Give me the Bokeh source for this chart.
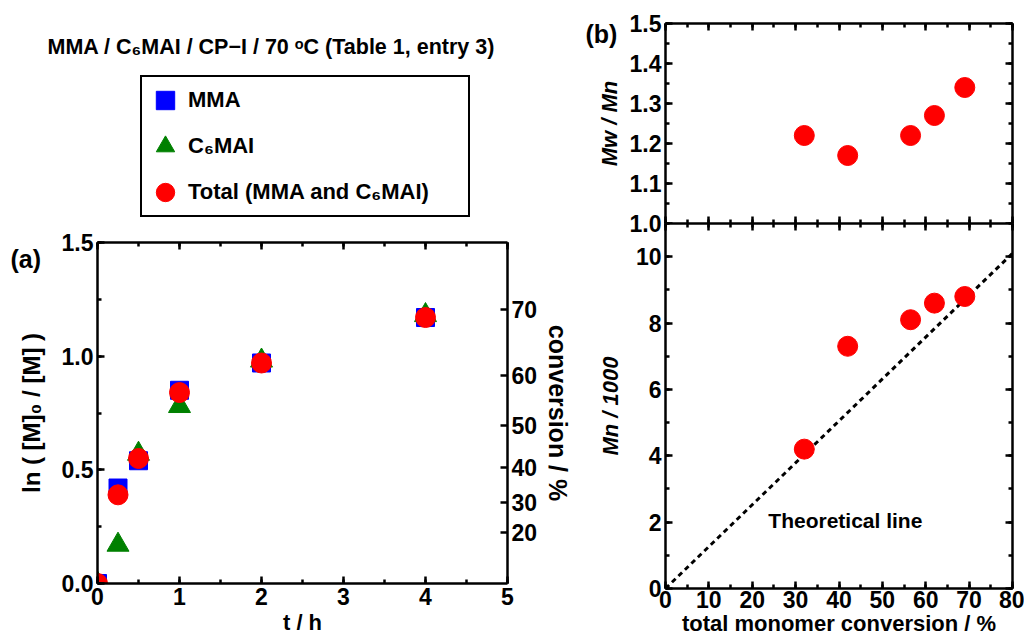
import math
from bokeh.plotting import figure
from bokeh.models import (Range1d, LinearAxis, SingleIntervalTicker, FixedTicker,
                          Legend, LegendItem, Label, CustomJSTickFormatter, PrintfTickFormatter)
from bokeh.layouts import row, column
from bokeh.embed import file_html
from bokeh.resources import INLINE

# ---- data: panel (a) ----
t_h = [0, 0.25, 0.5, 1, 2, 4]
ln_mma = [0, 0.42, 0.54, 0.85, 0.97, 1.17]
ln_c6mai = [0, 0.17, 0.57, 0.78, 0.98, 1.18]
ln_total = [0, 0.39, 0.55, 0.84, 0.97, 1.17]
conv_ticks = [20, 30, 40, 50, 60, 70]
series_names = ["MMA", "C₆MAI", "Total (MMA and C₆MAI)"]

# ---- data: panel (b) ----
total_conv = [32, 42, 56.5, 62, 69]
mw_mn = [1.22, 1.17, 1.22, 1.27, 1.34]
mn_k = [4.2, 7.3, 8.1, 8.6, 8.8]
theory_conv = [0, 80]
theory_mn = [0, 10.1]

FONT = "Liberation Sans"
TICK_FS = "23px"
LAB_FS = "22px"
EMPTY = CustomJSTickFormatter(code="return ''")

MARKERS = [dict(marker="square", size=18, color="#0000ff"),
           dict(marker="triangle", size=22, color="#008000"),
           dict(marker="circle", size=20, color="#ff0000")]
SERIES = [ln_mma, ln_c6mai, ln_total]


def style_axis(ax, labels=True):
    ax.axis_line_width = 2.5
    ax.axis_line_color = "black"
    ax.major_tick_line_width = 2.5
    ax.minor_tick_line_width = 2.5
    ax.major_tick_in = 7
    ax.major_tick_out = 0
    ax.minor_tick_in = 4
    ax.minor_tick_out = 0
    ax.major_label_text_font = FONT
    ax.major_label_text_font_style = "bold"
    ax.major_label_text_color = "black"
    ax.axis_label_text_font = FONT
    ax.axis_label_text_font_style = "bold"
    ax.axis_label_text_font_size = LAB_FS
    ax.axis_label_text_color = "black"
    if labels:
        ax.major_label_text_font_size = TICK_FS
        ax.major_label_standoff = 4
    else:
        ax.formatter = EMPTY
        ax.major_label_text_font_size = "1px"
        ax.major_label_standoff = 0


def base_fig(**kw):
    p = figure(output_backend="svg", toolbar_location=None, **kw)
    p.grid.visible = False
    p.outline_line_color = None
    p.background_fill_color = "white"
    p.border_fill_alpha = 0
    return p


# ================= header layer (title, legend, panel letters) =================
hdr = figure(width=1024, height=280, x_range=Range1d(0, 1), y_range=Range1d(0, 1),
             x_axis_type=None, y_axis_type=None, output_backend="svg", toolbar_location=None,
             min_border=0)
hdr.grid.visible = False
hdr.outline_line_color = None
hdr.background_fill_color = "white"
hdr.border_fill_color = "white"
hdr.add_layout(Label(x=47, y=234, x_units="screen", y_units="screen",
                     text="MMA / C₆MAI / CP−I / 70 ᵒC (Table 1, entry 3)",
                     text_font=FONT, text_font_style="bold", text_font_size="21.5px",
                     text_color="black", text_baseline="middle", text_align="left"))
hdr.add_layout(Label(x=10, y=22, x_units="screen", y_units="screen", text="(a)",
                     text_font=FONT, text_font_style="bold", text_font_size="25px",
                     text_color="black", text_baseline="middle", text_align="left"))
hdr.add_layout(Label(x=585, y=247, x_units="screen", y_units="screen", text="(b)",
                     text_font=FONT, text_font_style="bold", text_font_size="25px",
                     text_color="black", text_baseline="middle", text_align="left"))
# legend keys: hidden copies of the series that only carry the marker styles
keys = [hdr.scatter(t_h, ys, visible=False, **m) for ys, m in zip(SERIES, MARKERS)]
legend = Legend(items=[LegendItem(label=n, renderers=[r]) for n, r in zip(series_names, keys)],
                location=(140, 63))
legend.glyph_width = 46
legend.glyph_height = 46
legend.label_height = 46
legend.label_width = 280
legend.spacing = 0
legend.padding = 0
legend.margin = 0
legend.label_standoff = 0
legend.label_text_font = FONT
legend.label_text_font_style = "bold"
legend.label_text_font_size = "22px"
legend.label_text_color = "black"
legend.border_line_color = "black"
legend.border_line_alpha = 1
legend.border_line_width = 2.5
legend.background_fill_color = "white"
legend.background_fill_alpha = 1
hdr.add_layout(legend)

# ================= panel (a) =================
p1 = base_fig(width=575, height=641, x_range=Range1d(0, 5), y_range=Range1d(0, 1.5),
              min_border_left=97, min_border_right=65, min_border_top=242, min_border_bottom=58)
p1.xaxis.ticker = SingleIntervalTicker(interval=1, num_minor_ticks=2)
p1.yaxis.ticker = SingleIntervalTicker(interval=0.5, num_minor_ticks=2)
style_axis(p1.xaxis[0])
style_axis(p1.yaxis[0])
p1.yaxis.formatter = PrintfTickFormatter(format="%.1f")
p1.xaxis.axis_label = "t / h"
p1.xaxis.axis_label_standoff = 2
p1.yaxis.axis_label = "ln ( [M]₀ / [M] )"
p1.yaxis.axis_label_text_font_size = "24px"
p1.yaxis.axis_label_standoff = 14

top1 = LinearAxis(ticker=SingleIntervalTicker(interval=1, num_minor_ticks=2))
style_axis(top1, labels=False)
p1.add_layout(top1, "above")

right1 = LinearAxis(ticker=FixedTicker(ticks=[-math.log(1 - c / 100) for c in conv_ticks], minor_ticks=[]),
                    formatter=CustomJSTickFormatter(code="return (100*(1-Math.exp(-tick))).toFixed(0)"),
                    axis_label="conversion / %")
style_axis(right1)
right1.axis_label_text_font_size = "25px"
right1.axis_label_standoff = 4
p1.add_layout(right1, "right")

for ys, m in zip(SERIES, MARKERS):
    p1.scatter(t_h, ys, **m)

# ================= panel (b) top =================
p2 = base_fig(width=449, height=237, x_range=Range1d(0, 80), y_range=Range1d(1.0, 1.5),
              min_border_left=90, min_border_right=12, min_border_top=23, min_border_bottom=14)
p2.xaxis.ticker = SingleIntervalTicker(interval=10, num_minor_ticks=2)
p2.yaxis.ticker = SingleIntervalTicker(interval=0.1, num_minor_ticks=2)
style_axis(p2.xaxis[0], labels=False)
style_axis(p2.yaxis[0])
p2.yaxis.formatter = PrintfTickFormatter(format="%.1f")
p2.yaxis.axis_label = "Mw / Mn"
p2.yaxis.axis_label_text_font_style = "bold italic"
p2.yaxis.axis_label_standoff = 5
for loc in ("above", "right"):
    tk = SingleIntervalTicker(interval=10, num_minor_ticks=2) if loc == "above" else \
        SingleIntervalTicker(interval=0.1, num_minor_ticks=2)
    ax = LinearAxis(ticker=tk)
    style_axis(ax, labels=False)
    p2.add_layout(ax, loc)
p2.scatter(total_conv, mw_mn, marker="circle", size=20, color="#ff0000")

# ================= panel (b) bottom =================
p3 = base_fig(width=449, height=418, x_range=Range1d(0, 80), y_range=Range1d(0, 11),
              min_border_left=90, min_border_right=12, min_border_top=0, min_border_bottom=53)
p3.margin = (-14, 0, 0, 0)
p3.xaxis.ticker = SingleIntervalTicker(interval=10, num_minor_ticks=2)
p3.yaxis.ticker = SingleIntervalTicker(interval=2, num_minor_ticks=2)
style_axis(p3.xaxis[0])
style_axis(p3.yaxis[0])
p3.xaxis.axis_label = "total monomer conversion / %"
p3.xaxis.axis_label_standoff = 0
p3.xaxis.major_label_standoff = 2
p3.yaxis.axis_label = "Mn / 1000"
p3.yaxis.axis_label_text_font_style = "bold italic"
p3.yaxis.axis_label_standoff = 10
for loc in ("above", "right"):
    tk = SingleIntervalTicker(interval=10, num_minor_ticks=2) if loc == "above" else \
        SingleIntervalTicker(interval=2, num_minor_ticks=2)
    ax = LinearAxis(ticker=tk)
    style_axis(ax, labels=False)
    p3.add_layout(ax, loc)
p3.line(theory_conv, theory_mn, line_dash="5 4", line_width=3, color="black")
p3.scatter(total_conv, mn_k, marker="circle", size=20, color="#ff0000")
p3.add_layout(Label(x=23.7, y=2.05, text="Theoretical line",
                    text_font=FONT, text_font_style="bold", text_font_size="21px",
                    text_color="black", text_baseline="middle", text_align="left"))

body = row(p1, column(p2, p3), margin=(-280, 0, 0, 0))
layout = column(hdr, body)
open("out.html", "w").write(file_html(layout, INLINE))
